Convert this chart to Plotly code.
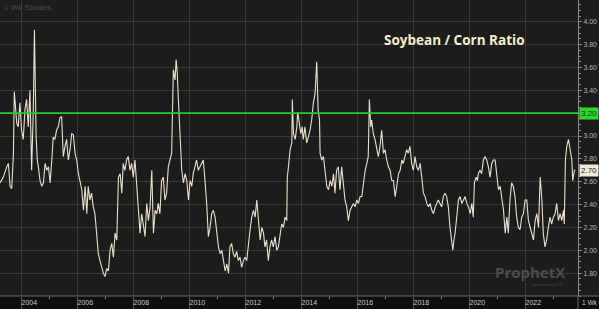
import plotly.graph_objects as go

# decimal years and soybean/corn price ratio
years = [
 2003.25,2003.37,2003.49,2003.55,2003.61,2003.67,2003.73,2003.76,2003.85,2003.90,2003.96,2004.02,2004.08,2004.14,2004.20,2004.26,2004.32,2004.38,2004.44,2004.48,
 2004.54,2004.58,2004.62,2004.68,2004.74,2004.80,2004.86,2004.92,2004.98,2005.04,2005.10,2005.15,2005.21,2005.27,2005.33,2005.39,2005.45,2005.51,2005.57,2005.63,
 2005.69,2005.75,2005.81,2005.87,2005.93,2005.99,2006.05,2006.11,2006.17,2006.23,2006.29,2006.35,2006.40,2006.46,2006.52,2006.58,2006.64,2006.70,2006.76,2006.82,
 2006.88,2006.94,2007.00,2007.06,2007.12,2007.18,2007.24,2007.30,2007.36,2007.42,2007.48,2007.54,2007.60,2007.65,2007.71,2007.77,2007.83,2007.89,2007.95,2008.01,
 2008.07,2008.13,2008.19,2008.25,2008.31,2008.37,2008.43,2008.49,2008.55,2008.61,2008.67,2008.73,2008.79,2008.85,2008.90,2008.96,2009.02,2009.08,2009.14,2009.20,
 2009.26,2009.32,2009.38,2009.44,2009.50,2009.54,2009.58,2009.62,2009.68,2009.74,2009.80,2009.86,2009.92,2009.98,2010.04,2010.10,2010.15,2010.21,2010.27,2010.33,
 2010.39,2010.51,2010.57,2010.63,2010.69,2010.75,2010.81,2010.87,2010.93,2010.99,2011.05,2011.11,2011.17,2011.23,2011.29,2011.35,2011.41,2011.46,2011.52,2011.58,
 2011.64,2011.70,2011.76,2011.82,2011.88,2011.94,2012.00,2012.06,2012.12,2012.18,2012.24,2012.30,2012.36,2012.42,2012.48,2012.54,2012.60,2012.66,2012.71,2012.77,
 2012.83,2012.89,2012.95,2013.01,2013.07,2013.13,2013.19,2013.25,2013.31,2013.37,2013.43,2013.49,2013.51,2013.55,2013.61,2013.67,2013.69,2013.73,2013.79,2013.85,
 2013.88,2013.94,2013.99,2014.04,2014.08,2014.14,2014.20,2014.26,2014.32,2014.38,2014.44,2014.50,2014.56,2014.61,2014.66,2014.68,2014.74,2014.80,2014.86,2014.92,
 2014.98,2015.04,2015.10,2015.16,2015.21,2015.27,2015.33,2015.39,2015.45,2015.51,2015.57,2015.63,2015.69,2015.75,2015.81,2015.87,2015.93,2015.99,2016.05,2016.11,
 2016.17,2016.23,2016.29,2016.35,2016.40,2016.44,2016.49,2016.52,2016.58,2016.64,2016.70,2016.76,2016.82,2016.88,2016.94,2017.00,2017.06,2017.12,2017.18,2017.24,
 2017.30,2017.36,2017.42,2017.48,2017.54,2017.60,2017.65,2017.71,2017.77,2017.83,2017.89,2017.95,2018.01,2018.07,2018.13,2018.19,2018.25,2018.31,2018.37,2018.43,
 2018.49,2018.55,2018.61,2018.67,2018.73,2018.79,2018.84,2018.90,2018.96,2019.02,2019.08,2019.14,2019.20,2019.26,2019.32,2019.38,2019.42,2019.46,2019.50,2019.56,
 2019.62,2019.68,2019.74,2019.80,2019.86,2019.92,2019.98,2020.04,2020.10,2020.15,2020.19,2020.25,2020.30,2020.33,2020.39,2020.45,2020.51,2020.57,2020.63,2020.69,
 2020.75,2020.81,2020.87,2020.93,2020.99,2021.05,2021.11,2021.17,2021.23,2021.29,2021.35,2021.40,2021.46,2021.52,2021.58,2021.64,2021.70,2021.76,2021.82,2021.88,
 2021.94,2022.00,2022.06,2022.12,2022.18,2022.24,2022.30,2022.36,2022.42,2022.48,2022.54,2022.60,2022.65,2022.71,2022.77,2022.83,2022.89,2022.95,2023.01,2023.07,
 2023.13,2023.19,2023.25,2023.31,2023.37,2023.40,2023.44,2023.49,2023.55,2023.61,2023.67,2023.70,2023.76,2023.80,
]
ratio = [
 2.59,2.64,2.73,2.76,2.56,2.54,2.85,3.39,3.11,3.08,3.29,3.05,2.97,3.23,3.32,3.08,3.40,2.70,3.23,3.93,
 2.99,2.79,2.73,2.61,2.56,2.59,2.76,2.70,2.73,2.59,2.79,2.99,2.97,3.05,3.08,3.16,3.17,2.82,2.91,2.97,
 2.79,2.88,3.02,3.01,2.85,2.79,2.67,2.61,2.53,2.35,2.56,2.32,2.56,2.44,2.50,2.38,2.32,2.15,1.97,1.91,
 1.85,1.80,1.77,1.84,1.82,2.00,2.06,1.94,2.15,2.09,2.64,2.67,2.50,2.76,2.70,2.79,2.82,2.70,2.76,2.64,
 2.79,2.56,2.29,2.15,2.32,2.20,2.12,2.41,2.26,2.38,2.70,2.15,2.35,2.32,2.41,2.32,2.61,2.64,2.44,2.50,
 2.73,2.79,2.85,3.58,3.49,3.67,3.55,3.32,3.02,2.70,2.59,2.67,2.61,2.44,2.61,2.56,2.67,2.73,2.79,2.70,
 2.73,2.79,2.61,2.41,2.12,2.20,2.32,2.35,2.29,2.15,2.03,1.97,2.00,1.91,1.82,1.88,1.80,2.03,2.06,1.97,
 1.94,1.99,1.91,1.94,1.85,1.91,1.94,1.91,2.06,2.18,2.29,2.35,2.29,2.44,2.26,2.09,2.20,2.15,2.03,2.09,
 1.91,2.03,2.09,2.03,2.12,2.00,2.03,2.15,2.23,2.20,2.29,2.26,2.64,2.73,2.88,2.94,3.32,3.02,2.97,3.08,
 3.21,3.11,3.02,3.08,2.97,3.08,2.94,2.99,3.05,3.14,3.29,3.37,3.65,3.23,3.14,2.85,2.79,2.82,2.70,2.56,
 2.53,2.61,2.56,2.67,2.50,2.70,2.73,2.53,2.73,2.59,2.44,2.38,2.26,2.35,2.38,2.41,2.38,2.44,2.41,2.47,
 2.47,2.59,2.70,2.76,2.82,3.32,3.08,3.14,3.02,2.97,2.88,2.82,2.91,3.05,2.85,2.88,2.79,2.73,2.70,2.61,
 2.61,2.47,2.56,2.67,2.70,2.79,2.76,2.82,2.88,2.85,2.91,2.76,2.70,2.82,2.73,2.70,2.76,2.64,2.50,2.47,
 2.41,2.38,2.41,2.35,2.32,2.38,2.41,2.44,2.41,2.38,2.47,2.50,2.47,2.38,2.20,2.09,2.00,2.09,2.15,2.29,
 2.44,2.47,2.41,2.44,2.47,2.41,2.38,2.32,2.41,2.29,2.59,2.64,2.61,2.67,2.70,2.67,2.79,2.82,2.79,2.73,
 2.64,2.76,2.79,2.79,2.67,2.53,2.56,2.44,2.35,2.15,2.29,2.15,2.44,2.59,2.56,2.47,2.29,2.20,2.18,2.29,
 2.32,2.44,2.44,2.26,2.20,2.15,2.09,2.26,2.32,2.20,2.64,2.44,2.15,2.03,2.09,2.20,2.29,2.23,2.29,2.32,
 2.41,2.26,2.32,2.26,2.35,2.23,2.79,2.91,2.97,2.88,2.79,2.61,2.70,2.70,
]

year_ticks = [2004, 2006, 2008, 2010, 2012, 2014, 2016, 2018, 2020, 2022]
year_labels = [str(y) for y in year_ticks]
odd_years = [2005, 2007, 2009, 2011, 2013, 2015, 2017, 2019, 2021, 2023]
y_ticks = [1.8, 2.0, 2.2, 2.4, 2.6, 2.8, 3.0, 3.2, 3.4, 3.6, 3.8, 4.0]
ref_level = 3.20
last_value = 2.70
title_text = "Soybean / Corn Ratio"
# the 3.20 tick label is covered by the reference-line badge
y_labels = ["" if abs(v - ref_level) < 1e-9 else f"{v:.2f}" for v in y_ticks]

W, H = 599, 309
ML, MR, MT, MB = 0, 21, 0, 13
PW, PH = W - ML - MR, H - MT - MB

BG = "#1c1c1c"
GRID = "#383838"
BAND = "#0f0f0f"
LINE = "#e6e1cb"

fig = go.Figure()
fig.add_trace(go.Scatter(
    x=years, y=ratio, mode="lines",
    line=dict(color=LINE, width=1.1),
    hoverinfo="skip", showlegend=False,
))

# bottom axis band
fig.add_shape(type="rect", xref="paper", yref="paper",
              x0=0, x1=W / PW, y0=-MB / PH, y1=0,
              fillcolor=BAND, line=dict(width=0), layer="below")
fig.add_shape(type="line", xref="paper", yref="paper",
              x0=0, x1=W / PW, y0=0, y1=0,
              line=dict(color="#6a6a6a", width=1))
fig.add_shape(type="line", xref="paper", yref="paper",
              x0=1, x1=1, y0=-MB / PH, y1=0,
              line=dict(color="#6a6a6a", width=1))

# 3.20 reference line
fig.add_shape(type="line", xref="paper", yref="y",
              x0=0, x1=1, y0=ref_level, y1=ref_level,
              line=dict(color="#22cc22", width=1.6))
fig.add_annotation(xref="paper", yref="y", x=1.0, y=ref_level,
                   text=f"{ref_level:.2f}", showarrow=False,
                   xanchor="left", yanchor="middle", xshift=1,
                   bgcolor="#2fd42f", borderpad=1,
                   font=dict(family="Liberation Sans", size=8, color="#0a3a0a"))
fig.add_annotation(xref="paper", yref="y", x=1.0, y=last_value,
                   text=f"{last_value:.2f}", showarrow=False,
                   xanchor="left", yanchor="middle", xshift=1,
                   bgcolor="#eeead6", borderpad=1,
                   font=dict(family="Liberation Sans", size=8, color="#222222"))

fig.add_annotation(xref="paper", yref="paper", x=454 / PW, y=1 - 40 / PH,
                   text=f"<b>{title_text}</b>", showarrow=False,
                   xanchor="center", yanchor="middle",
                   font=dict(family="Open Sans", size=13.5, color="#f4eecb"))
fig.add_annotation(xref="paper", yref="paper", x=2 / PW, y=1 - 1 / PH,
                   text="1 Wk Studies", showarrow=False,
                   xanchor="left", yanchor="top",
                   font=dict(family="Liberation Sans", size=8, color="#4a4a4a"))
fig.add_annotation(xref="paper", yref="paper", x=530 / PW, y=1 - 272 / PH,
                   text="<b>ProphetX</b>", showarrow=False,
                   xanchor="center", yanchor="middle",
                   font=dict(family="Open Sans", size=15, color="#4d4d4d"))
fig.add_annotation(xref="paper", yref="paper", x=548 / PW, y=1 - 284 / PH,
                   text="powered by DTN", showarrow=False,
                   xanchor="center", yanchor="middle",
                   font=dict(family="Liberation Sans", size=4, color="#444444"))
fig.add_annotation(xref="paper", yref="paper", x=1.0, y=-(MB / 2) / PH,
                   text="1 Wk", showarrow=False,
                   xanchor="left", yanchor="middle", xshift=3,
                   borderpad=0,
                   font=dict(family="Liberation Sans", size=6.5, color="#c8c8c8"))

fig.update_layout(
    width=W, height=H,
    margin=dict(l=ML, r=MR, t=MT, b=MB, pad=0),
    paper_bgcolor=BG, plot_bgcolor=BG,
    showlegend=False,
    xaxis=dict(
        range=[2003.25, 2023.89], tickmode="array",
        tickvals=year_ticks, ticktext=year_labels,
        showgrid=True, gridcolor=GRID, gridwidth=1,
        zeroline=False, showline=False,
        ticks="outside", ticklen=MB, tickcolor="#5a5a5a", tickwidth=1,
        ticklabelposition="outside right",
        tickfont=dict(family="Liberation Sans", size=7, color="#c8c8c8"),
        ticklabelstandoff=0,
        minor=dict(tickmode="array", tickvals=odd_years, ticks="outside",
                   ticklen=2, tickcolor="#8a8a8a", showgrid=False),
    ),
    yaxis=dict(
        range=[1.60, 4.19], side="right", tickmode="array",
        tickvals=y_ticks, ticktext=y_labels,
        showgrid=True, gridcolor=GRID, gridwidth=1,
        zeroline=False, showline=True, linecolor="#8a8a8a", linewidth=1,
        ticks="outside", ticklen=3, tickcolor="#8a8a8a",
        tickfont=dict(family="Liberation Sans", size=7, color="#b4b4b4"),
        minor=dict(dtick=0.05, ticks="outside", ticklen=2, tickcolor="#8a8a8a",
                   showgrid=False),
    ),
)

fig.write_html("out.html")
